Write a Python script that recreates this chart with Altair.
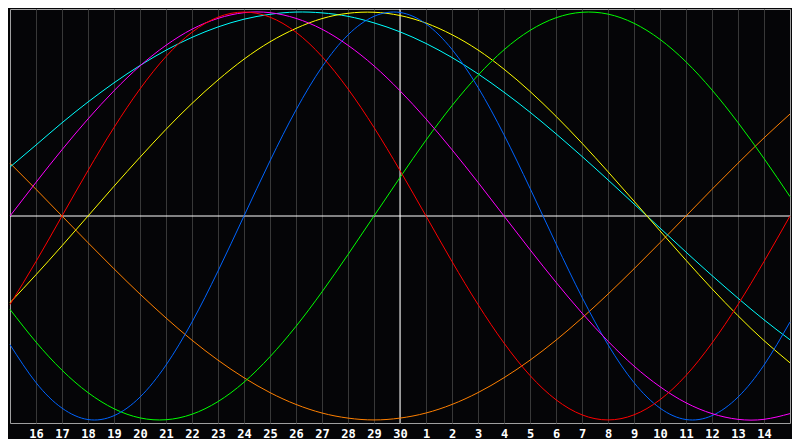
import altair as alt
import pandas as pd

# day index 0..30 (15th of one month to 15th of the next)
day_index = list(range(31))
day_labels = ["15", "16", "17", "18", "19", "20", "21", "22", "23", "24", "25", "26",
              "27", "28", "29", "30", "1", "2", "3", "4", "5", "6", "7", "8", "9",
              "10", "11", "12", "13", "14", "15"]
today_index = 15

# curve values (percent), one per day
physical = [-63.1, -81.7, -94.2, -99.8, -97.9, -88.8, -73.1, -52.0, -27.0, 0, 27.0,
            52.0, 73.1, 88.8, 97.9, 99.8, 94.2, 81.7, 63.1, 39.8, 13.6, -13.6, -39.8,
            -63.1, -81.7, -94.2, -99.8, -97.9, -88.8, -73.1, -52.0]
emotional = [-43.4, -22.3, 0, 22.3, 43.4, 62.3, 78.2, 90.1, 97.5, 100, 97.5, 90.1,
             78.2, 62.3, 43.4, 22.3, 0, -22.3, -43.4, -62.3, -78.2, -90.1, -97.5, -100,
             -97.5, -90.1, -78.2, -62.3, -43.4, -22.3, 0]
intellectual = [-45.8, -61.8, -75.6, -86.6, -94.5, -99.0, -99.9, -97.2, -91.0, -81.5,
                -69.0, -54.1, -37.2, -18.9, 0, 18.9, 37.2, 54.1, 69.0, 81.5, 91.0, 97.2,
                99.9, 99.0, 94.5, 86.6, 75.6, 61.8, 45.8, 28.2, 9.5]
intuitive = [0, 16.5, 32.5, 47.6, 61.4, 73.6, 83.7, 91.6, 96.9, 99.7, 99.7, 96.9, 91.6,
             83.7, 73.6, 61.4, 47.6, 32.5, 16.5, 0, -16.5, -32.5, -47.6, -61.4, -73.6,
             -83.7, -91.6, -96.9, -99.7, -99.7, -96.9]
aesthetic = [-42.5, -28.8, -14.6, 0, 14.6, 28.8, 42.5, 55.2, 66.7, 76.9, 85.4, 92.0,
             96.8, 99.4, 99.9, 98.3, 94.6, 88.9, 81.4, 72.0, 61.1, 48.9, 35.7, 21.7, 7.3,
             -7.3, -21.7, -35.7, -48.9, -61.1, -72.0]
awareness = [25.9, 13.1, 0, -13.1, -25.9, -38.3, -50, -60.9, -70.7, -79.3, -86.6,
             -92.4, -96.6, -99.1, -100, -99.1, -96.6, -92.4, -86.6, -79.3, -70.7, -60.9,
             -50, -38.3, -25.9, -13.1, 0, 13.1, 25.9, 38.3, 50]
spiritual = [24.0, 34.8, 45.7, 55.9, 65.3, 73.8, 81.3, 87.6, 92.7, 96.5, 98.9, 100,
             99.6, 97.9, 94.7, 90.3, 84.6, 77.7, 69.7, 60.7, 50.9, 40.3, 29.2, 17.7, 5.9,
             -5.9, -17.7, -29.2, -40.3, -50.9, -60.7]

series_names = ["awareness", "spiritual", "aesthetic", "intellectual", "physical",
                "intuitive", "emotional"]
series_values = [awareness, spiritual, aesthetic, intellectual, physical,
                 intuitive, emotional]
series_colors = ["#ff8000", "#00ffff", "#ffff00", "#00ff00", "#0064ff",
                 "#ff00ff", "#ff0000"]

rows = []
for name, vals in zip(series_names, series_values):
    for i, v in zip(day_index, vals):
        rows.append({"day": i, "value": v, "series": name})
df = pd.DataFrame(rows)

label_expr = "[" + ",".join("'" + s + "'" for s in day_labels) + "][datum.value]"

x_scale = alt.Scale(domain=[0, 30], nice=False, zero=False)
y_scale = alt.Scale(domain=[-101.5, 101.5], nice=False, zero=False)

x_axis = alt.Axis(values=list(range(1, 30)), labelExpr=label_expr, grid=True,
                  gridColor="#383838", gridWidth=1, ticks=False, domain=False,
                  labelColor="#ffffff", labelFont="DejaVu Sans Mono",
                  labelFontWeight="bold", labelFontSize=12, labelPadding=5,
                  labelFlush=False, title=None)

zero_rule = alt.Chart(pd.DataFrame({"v": [0]})).mark_rule(
    color="#ffffff", strokeWidth=1).encode(
    y=alt.Y("v:Q", scale=y_scale, axis=None))

today_rule = alt.Chart(pd.DataFrame({"d": [today_index]})).mark_rule(
    color="#ffffff", strokeWidth=1).encode(
    x=alt.X("d:Q", scale=x_scale, axis=x_axis))

lines = alt.Chart(df).mark_line(strokeWidth=1, interpolate="natural").encode(
    x=alt.X("day:Q", scale=x_scale, axis=x_axis),
    y=alt.Y("value:Q", scale=y_scale, axis=None),
    color=alt.Color("series:N", scale=alt.Scale(domain=series_names,
                                                range=series_colors), legend=None),
    detail="series:N",
)

chart = alt.layer(today_rule, zero_rule, lines).properties(
    width=780, height=414, padding=0, background="#050507"
).configure_view(stroke="#a0a0a0", strokeWidth=1)

chart.save("out.html", embed_options={"renderer": "svg", "actions": False})
